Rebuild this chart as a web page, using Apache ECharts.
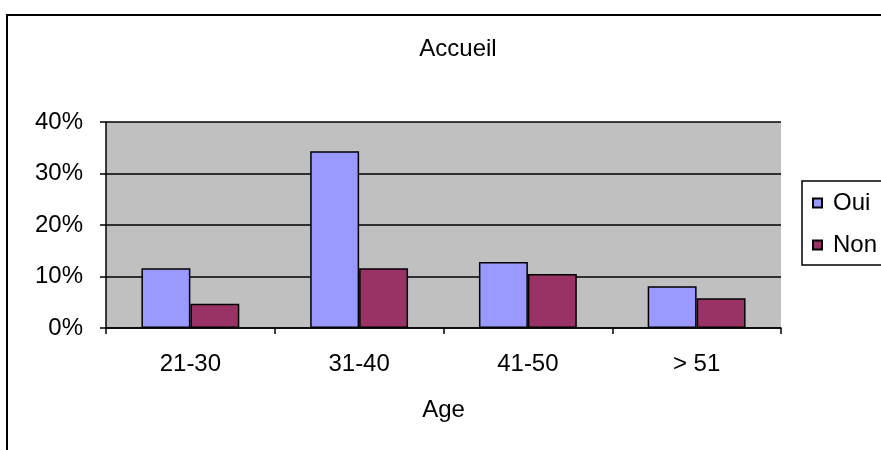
<!DOCTYPE html>
<html>
<head>
<meta charset="utf-8">
<script src="https://cdn.jsdelivr.net/npm/echarts@6/dist/echarts.min.js"></script>
<style>
html,body{margin:0;padding:0;background:#fff;}
#chart{width:881px;height:450px;}
</style>
</head>
<body>
<div id="chart"></div>
<script>
const categories = ['21-30', '31-40', '41-50', '> 51'];
const seriesNames = ['Oui', 'Non'];
const ouiValues = [0.116, 0.343, 0.128, 0.081];
const nonValues = [0.047, 0.116, 0.105, 0.058];
const yTicks = [0, 0.1, 0.2, 0.3, 0.4];
const titleText = 'Accueil';
const xAxisName = 'Age';

const FONT = '"Liberation Sans", Arial, sans-serif';
const FS = 24;
const chart = echarts.init(document.getElementById('chart'));
chart.setOption({
  animation: false,
  backgroundColor: '#fff',
  textStyle: { fontFamily: FONT, color: '#000' },
  title: {
    text: titleText,
    left: 453, top: 32, textAlign: 'center',
    textStyle: { fontFamily: FONT, fontSize: FS, fontWeight: 'normal', color: '#000' }
  },
  graphic: [{
    type: 'rect', z: 100, silent: true,
    shape: { x: 7, y: 15, width: 1000, height: 1000 },
    style: { fill: 'none', stroke: '#000', lineWidth: 2 }
  }],
  legend: {
    orient: 'vertical',
    left: 802, top: 181,
    padding: [10, 30, 8, 10],
    itemGap: 18,
    itemWidth: 9, itemHeight: 9,
    icon: 'rect',
    backgroundColor: '#fff',
    borderColor: '#000', borderWidth: 1.5,
    textStyle: { fontFamily: FONT, fontSize: FS, color: '#000', padding: [0, 0, 0, 6] },
    data: seriesNames
  },
  grid: {
    left: 106, right: 100, top: 122, bottom: 122,
    show: true, backgroundColor: '#C0C0C0', borderWidth: 0
  },
  xAxis: {
    type: 'category',
    data: categories,
    name: xAxisName,
    nameLocation: 'middle',
    nameGap: 70,
    nameTextStyle: { fontFamily: FONT, fontSize: FS, color: '#000' },
    axisLine: { lineStyle: { color: '#000', width: 1.5 } },
    axisTick: { show: true, length: 6, lineStyle: { color: '#000', width: 1.5 } },
    axisLabel: { margin: 24, fontFamily: FONT, fontSize: FS, color: '#000' }
  },
  yAxis: {
    type: 'value',
    min: yTicks[0], max: yTicks[yTicks.length - 1], interval: 0.1,
    axisLine: { show: true, lineStyle: { color: '#000', width: 1.5 } },
    axisTick: { show: true, length: 6, lineStyle: { color: '#000', width: 1.5 } },
    splitLine: { show: true, lineStyle: { color: '#000', width: 1.5 } },
    axisLabel: {
      margin: 23, fontFamily: FONT, fontSize: FS, color: '#000',
      formatter: v => Math.round(v * 100) + '%'
    }
  },
  series: [
    {
      name: seriesNames[0], type: 'bar', data: ouiValues,
      barGap: '0%', barCategoryGap: '42%',
      itemStyle: { color: '#9999FF', borderColor: '#000', borderWidth: 1.5 }
    },
    {
      name: seriesNames[1], type: 'bar', data: nonValues,
      itemStyle: { color: '#993366', borderColor: '#000', borderWidth: 1.5 }
    }
  ]
});
</script>
</body>
</html>
